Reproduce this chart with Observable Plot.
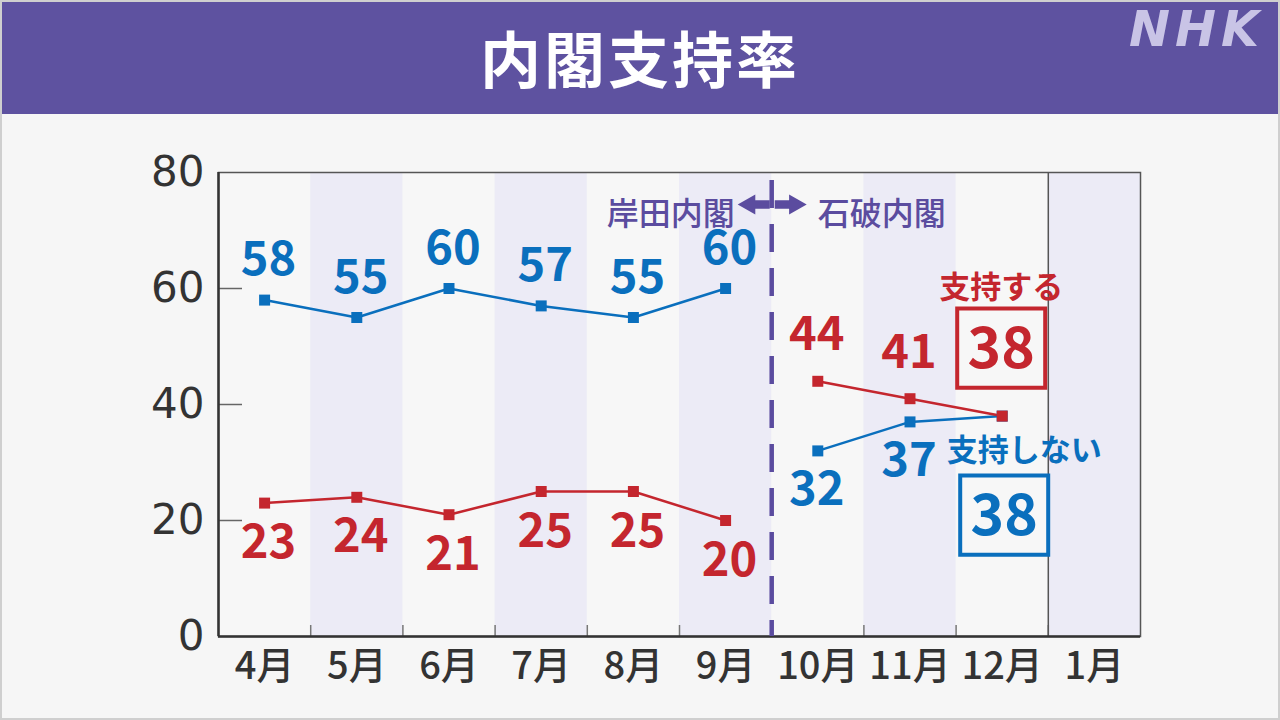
<!DOCTYPE html>
<html><head><meta charset="utf-8">
<script src="https://cdn.jsdelivr.net/npm/d3@7"></script>
<script src="https://cdn.jsdelivr.net/npm/@observablehq/plot@0.6"></script>
<style>
html,body{margin:0;padding:0}
body{background:#f6f6f6;width:1280px;height:720px;overflow:hidden;font-family:"Noto Sans CJK JP",sans-serif;position:relative}
#frame{position:absolute;left:0;top:0;width:1276px;height:716px;border:2px solid #cfcfcf;pointer-events:none}
#header{height:114px;background:#5e52a0;position:relative;color:#fff;text-align:center}
#title{font-size:61px;font-weight:700;line-height:114px;letter-spacing:3px}
#logo{position:absolute;right:16px;top:1px;font-family:"DejaVu Sans";font-weight:bold;font-style:italic;font-size:49px;letter-spacing:5px;color:#c9c4e6}
#chart svg{display:block}
</style></head><body>
<div id="header"><div id="title">内閣支持率</div><div id="logo">NHK</div></div>
<div id="chart"></div>
<div id="frame"></div>
<script>
const months = ["4月","5月","6月","7月","8月","9月","10月","11月","12月","1月"];
const approve = [23,24,21,25,25,20,44,41,38];
const disapprove = [58,55,60,57,55,60,32,37,38];
const cabinet = ["岸田","岸田","岸田","岸田","岸田","岸田","石破","石破","石破"];
const shadedMonths = ["5月","7月","9月","11月","1月"];
const yTicks = [0,20,40,60,80];
const cabinetLabels = ["岸田内閣","石破内閣"];
const legendLabels = ["支持する","支持しない"];

const RED = "#c4262e", BLUE = "#0a6fbd", PURPLE = "#5b4c9f";

const rows = approve.map((a, i) => ({month: months[i], xi: i + 0.5, approve: a, disapprove: disapprove[i], cabinet: cabinet[i], last: i === approve.length - 1}));
const changeAt = months.indexOf("10月");
const endAt = months.indexOf("1月");
const lastRow = rows[rows.length - 1];

const boxSymbol = {draw(ctx, size) { const r = Math.sqrt(size / Math.PI); ctx.rect(-r, -0.9 * r, 2 * r, 1.8 * r); }};
function arrowSymbol(dir) {
  return {draw(ctx, size) {
    const r = Math.sqrt(size / Math.PI), s = dir;
    const hb = 0.1 * r; // head base
    ctx.moveTo(s * -r, 0);
    ctx.lineTo(s * hb, -0.62 * r);
    ctx.lineTo(s * hb, -0.27 * r);
    ctx.lineTo(s * r, -0.27 * r);
    ctx.lineTo(s * r, 0.27 * r);
    ctx.lineTo(s * hb, 0.27 * r);
    ctx.lineTo(s * hb, 0.62 * r);
    ctx.closePath();
  }};
}

const labelFont = {fontFamily: "Noto Sans CJK JP", fontWeight: 700, fontSize: 47};
const cabFont = {fill: PURPLE, fontSize: 32, fontWeight: 500, fontFamily: "Noto Sans CJK JP"};

const chart = Plot.plot({
  width: 1280, height: 606,
  marginLeft: 218, marginRight: 140, marginTop: 58, marginBottom: 84,
  style: {background: "transparent", color: "#333", overflow: "visible"},
  x: {type: "linear", domain: [0, months.length], label: null},
  y: {domain: [0, 80], label: null},
  marks: [
    Plot.frame({fill: "#f7f7f7", stroke: null}),
    Plot.rect(shadedMonths, {x1: m => months.indexOf(m), x2: m => months.indexOf(m) + 1, fill: "#ecebf6"}),
    Plot.ruleX(d3.range(1, months.length), {stroke: "#777", strokeWidth: 1.5, insetTop: 453}),
    Plot.ruleY(yTicks.slice(1, -1), {stroke: "#666", strokeWidth: 1.5, insetRight: 898}),
    Plot.ruleX([endAt], {stroke: "#555", strokeWidth: 1.5}),
    Plot.frame({stroke: "#555", strokeWidth: 1.5}),
    Plot.ruleX([0], {stroke: "#333", strokeWidth: 2.5}),
    Plot.ruleY([0], {stroke: "#333", strokeWidth: 2.5}),
    Plot.ruleX([changeAt], {stroke: PURPLE, strokeWidth: 4.5, strokeDasharray: "28,16", strokeDashoffset: -8}),
    Plot.axisY({ticks: yTicks, tickSize: 0, tickPadding: 14, fontSize: 42, fontFamily: "DejaVu Sans", fill: "#333", label: null}),
    Plot.axisX({ticks: months.map((m, i) => i + 0.5), tickFormat: d => months[Math.round(d - 0.5)], tickSize: 0, tickPadding: 16, fontSize: 38, fontWeight: 500, fontFamily: "Noto Sans CJK JP", fill: "#333", label: null}),
    // cabinet labels and arrows
    Plot.text([cabinetLabels[0]], {x: changeAt, frameAnchor: "top", dy: 30, dx: -37, text: d => d, textAnchor: "end", ...cabFont}),
    Plot.text([cabinetLabels[1]], {x: changeAt, frameAnchor: "top", dy: 30, dx: 46, text: d => d, textAnchor: "start", ...cabFont}),
    Plot.dot([changeAt], {x: d => d, frameAnchor: "top", dy: 32, dx: -18, symbol: arrowSymbol(1), r: 16, fill: PURPLE, stroke: null}),
    Plot.dot([changeAt], {x: d => d, frameAnchor: "top", dy: 32, dx: 19, symbol: arrowSymbol(-1), r: 16, fill: PURPLE, stroke: null}),
    // lines
    Plot.line(rows, {x: "xi", y: "disapprove", z: "cabinet", stroke: BLUE, strokeWidth: 2.5}),
    Plot.line(rows, {x: "xi", y: "approve", z: "cabinet", stroke: RED, strokeWidth: 2.5}),
    Plot.dot(rows, {x: "xi", y: "disapprove", symbol: "square", r: 6.2, fill: BLUE}),
    Plot.dot(rows, {x: "xi", y: "approve", symbol: "square", r: 6.2, fill: RED}),
    // value labels
    Plot.text(rows.filter(d => d.cabinet === "岸田"), {x: "xi", y: "disapprove", text: "disapprove", dy: -40, dx: 4, fill: BLUE, ...labelFont}),
    Plot.text(rows.filter(d => d.cabinet === "岸田"), {x: "xi", y: "approve", text: "approve", dy: 40, dx: 4, fill: RED, ...labelFont}),
    Plot.text(rows.filter(d => d.cabinet === "石破" && !d.last), {x: "xi", y: "approve", text: "approve", dy: -46, dx: -1, fill: RED, ...labelFont}),
    Plot.text(rows.filter(d => d.cabinet === "石破" && !d.last), {x: "xi", y: "disapprove", text: "disapprove", dy: 39, dx: -1, fill: BLUE, ...labelFont}),
    // latest boxes
    Plot.dot([lastRow], {x: "xi", y: "approve", symbol: boxSymbol, r: 44, dy: -68, dx: -1, fill: "#f7f7f7", stroke: RED, strokeWidth: 4}),
    Plot.text([lastRow], {x: "xi", y: "approve", text: "approve", dy: -66, dx: -1, fill: RED, fontFamily: "Noto Sans CJK JP", fontWeight: 700, fontSize: 57}),
    Plot.text([legendLabels[0]], {x: lastRow.xi, y: lastRow.approve, text: d => d, dy: -128, dx: -1, fill: RED, fontFamily: "Noto Sans CJK JP", fontWeight: 700, fontSize: 31}),
    Plot.dot([lastRow], {x: "xi", y: "disapprove", symbol: boxSymbol, r: 44, dy: 99, dx: 2, fill: "#f7f7f7", stroke: BLUE, strokeWidth: 4}),
    Plot.text([lastRow], {x: "xi", y: "disapprove", text: "disapprove", dy: 101, dx: 2, fill: BLUE, fontFamily: "Noto Sans CJK JP", fontWeight: 700, fontSize: 57}),
    Plot.text([legendLabels[1]], {x: lastRow.xi, y: lastRow.disapprove, text: d => d, dy: 35, dx: 22, fill: BLUE, fontFamily: "Noto Sans CJK JP", fontWeight: 700, fontSize: 31})
  ]
});
document.getElementById("chart").appendChild(chart);
</script>
</body></html>
